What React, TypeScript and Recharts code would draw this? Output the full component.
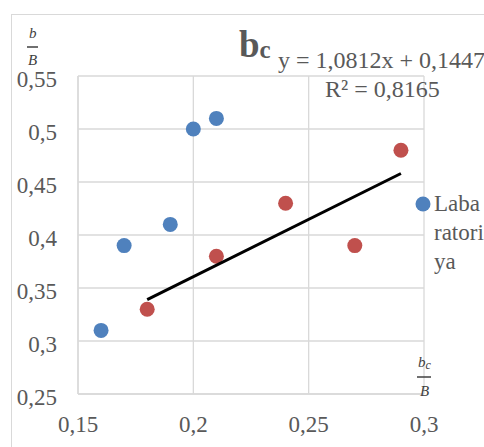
import React from 'react';
import { ScatterChart, Scatter, XAxis, YAxis, CartesianGrid, Legend } from 'recharts';

const blueX = [0.16, 0.17, 0.19, 0.2, 0.21];
const blueY = [0.31, 0.39, 0.41, 0.5, 0.51];
const redX = [0.18, 0.21, 0.24, 0.27, 0.29];
const redY = [0.33, 0.38, 0.43, 0.39, 0.48];
const trendX = [0.18, 0.29];
const trendY = [0.339, 0.458];
const xTicks = [0.15, 0.2, 0.25, 0.3];
const yTicks = [0.25, 0.3, 0.35, 0.4, 0.45, 0.5, 0.55];
const legendLines = ['Laba', 'ratori', 'ya'];
const equationText = 'y = 1,0812x + 0,1447';
const r2Text = 'R² = 0,8165';

const blueData = blueX.map((x, i) => ({ x, y: blueY[i] }));
const redData = redX.map((x, i) => ({ x, y: redY[i] }));
const trendData = trendX.map((x, i) => ({ x, y: trendY[i] }));

const FONT = '"Liberation Serif", "Times New Roman", serif';
const TXT = '#595959';
const BLUE = '#4f81bd';
const RED = '#c0504d';
const GRID = '#d9d9d9';

const fmt = (v: number) => String(v).replace('.', ',');

const XTick = (p: any) => (
  <text x={p.x} y={p.y + 30} textAnchor="middle" fill={TXT} fontSize={23} fontFamily={FONT}>
    {fmt(p.payload.value)}
  </text>
);
const YTick = (p: any) => (
  <text x={57} y={p.y + 11} textAnchor="end" fill={TXT} fontSize={23} fontFamily={FONT}>
    {fmt(p.payload.value)}
  </text>
);

const dot = (color: string) => (p: any) => <circle cx={p.cx} cy={p.cy} r={7.5} fill={color} />;

const LegendContent = () => (
  <div style={{ position: 'relative', width: 80, height: 90, fontFamily: FONT, fontSize: 23, color: TXT }}>
    <svg style={{ position: 'absolute', left: 0, top: 0 }} width={16} height={16}>
      <circle cx={8} cy={8} r={7.5} fill={BLUE} />
    </svg>
    {legendLines.map((l, i) => (
      <div key={i} style={{ position: 'absolute', left: 19, top: -7 + i * 29, lineHeight: '30px', whiteSpace: 'nowrap' }}>
        {l}
      </div>
    ))}
  </div>
);

export default function App() {
  return (
    <div style={{ position: 'absolute', left: 0, top: 0, width: 484, height: 447, overflow: 'hidden', background: '#fff' }}>
      <div style={{ position: 'absolute', left: 11, top: 14, width: 600, height: 600, border: `1px solid ${GRID}` }} />
      <ScatterChart width={484} height={447} margin={{ top: 76, right: 60, bottom: 0, left: 0 }} style={{ position: 'absolute', left: 0, top: 0 }}>
        <CartesianGrid stroke={GRID} strokeWidth={1.3} />
        <XAxis
          type="number"
          dataKey="x"
          domain={[0.15, 0.3]}
          ticks={xTicks}
          height={53}
          axisLine={{ stroke: GRID, strokeWidth: 1.3 }}
          tickLine={false}
          tick={<XTick />}
          allowDataOverflow
        />
        <YAxis
          type="number"
          dataKey="y"
          domain={[0.25, 0.55]}
          ticks={yTicks}
          width={78}
          axisLine={{ stroke: GRID, strokeWidth: 1.3 }}
          tickLine={false}
          tick={<YTick />}
          allowDataOverflow
        />
        <Legend
          layout="horizontal"
          verticalAlign="middle"
          align="center"
          content={<LegendContent />}
          wrapperStyle={{ position: 'absolute', left: 415, top: 196, width: 80, height: 90 }}
        />
        <Scatter name="Labaratoriya" data={blueData} fill={BLUE} shape={dot(BLUE)} isAnimationActive={false} />
        <Scatter name="Red" data={redData} fill={RED} shape={dot(RED)} legendType="none" isAnimationActive={false} />
        <Scatter
          name="Trend"
          data={trendData}
          fill="#000"
          line={{ stroke: '#000', strokeWidth: 3 }}
          shape={() => <g />}
          legendType="none"
          isAnimationActive={false}
        />
      </ScatterChart>
      <svg width={484} height={447} style={{ position: 'absolute', left: 0, top: 0, pointerEvents: 'none' }}>
        <text x={239} y={57} fontFamily={FONT} fill={TXT} fontWeight="bold">
          <tspan fontSize={37}>b</tspan>
          <tspan fontSize={25} dy={1}>c</tspan>
        </text>
        <text x={278} y={68} fontFamily={FONT} fontSize={24} fill={TXT}>{equationText}</text>
        <text x={325} y={97} fontFamily={FONT} fontSize={24} fill={TXT}>{r2Text}</text>
        <g fontFamily={FONT} fontStyle="italic" fill="#404040" fontSize={15}>
          <text x={29} y={38}>b</text>
          <line x1={27} x2={38} y1={47} y2={47} stroke="#404040" strokeWidth={1.5} />
          <text x={28} y={65}>B</text>
          <text x={418} y={367}>b<tspan fontSize={12} dy={2}>c</tspan></text>
          <line x1={417} x2={431} y1={377} y2={377} stroke="#404040" strokeWidth={1.5} />
          <text x={420} y={396}>B</text>
        </g>
      </svg>
    </div>
  );
}
